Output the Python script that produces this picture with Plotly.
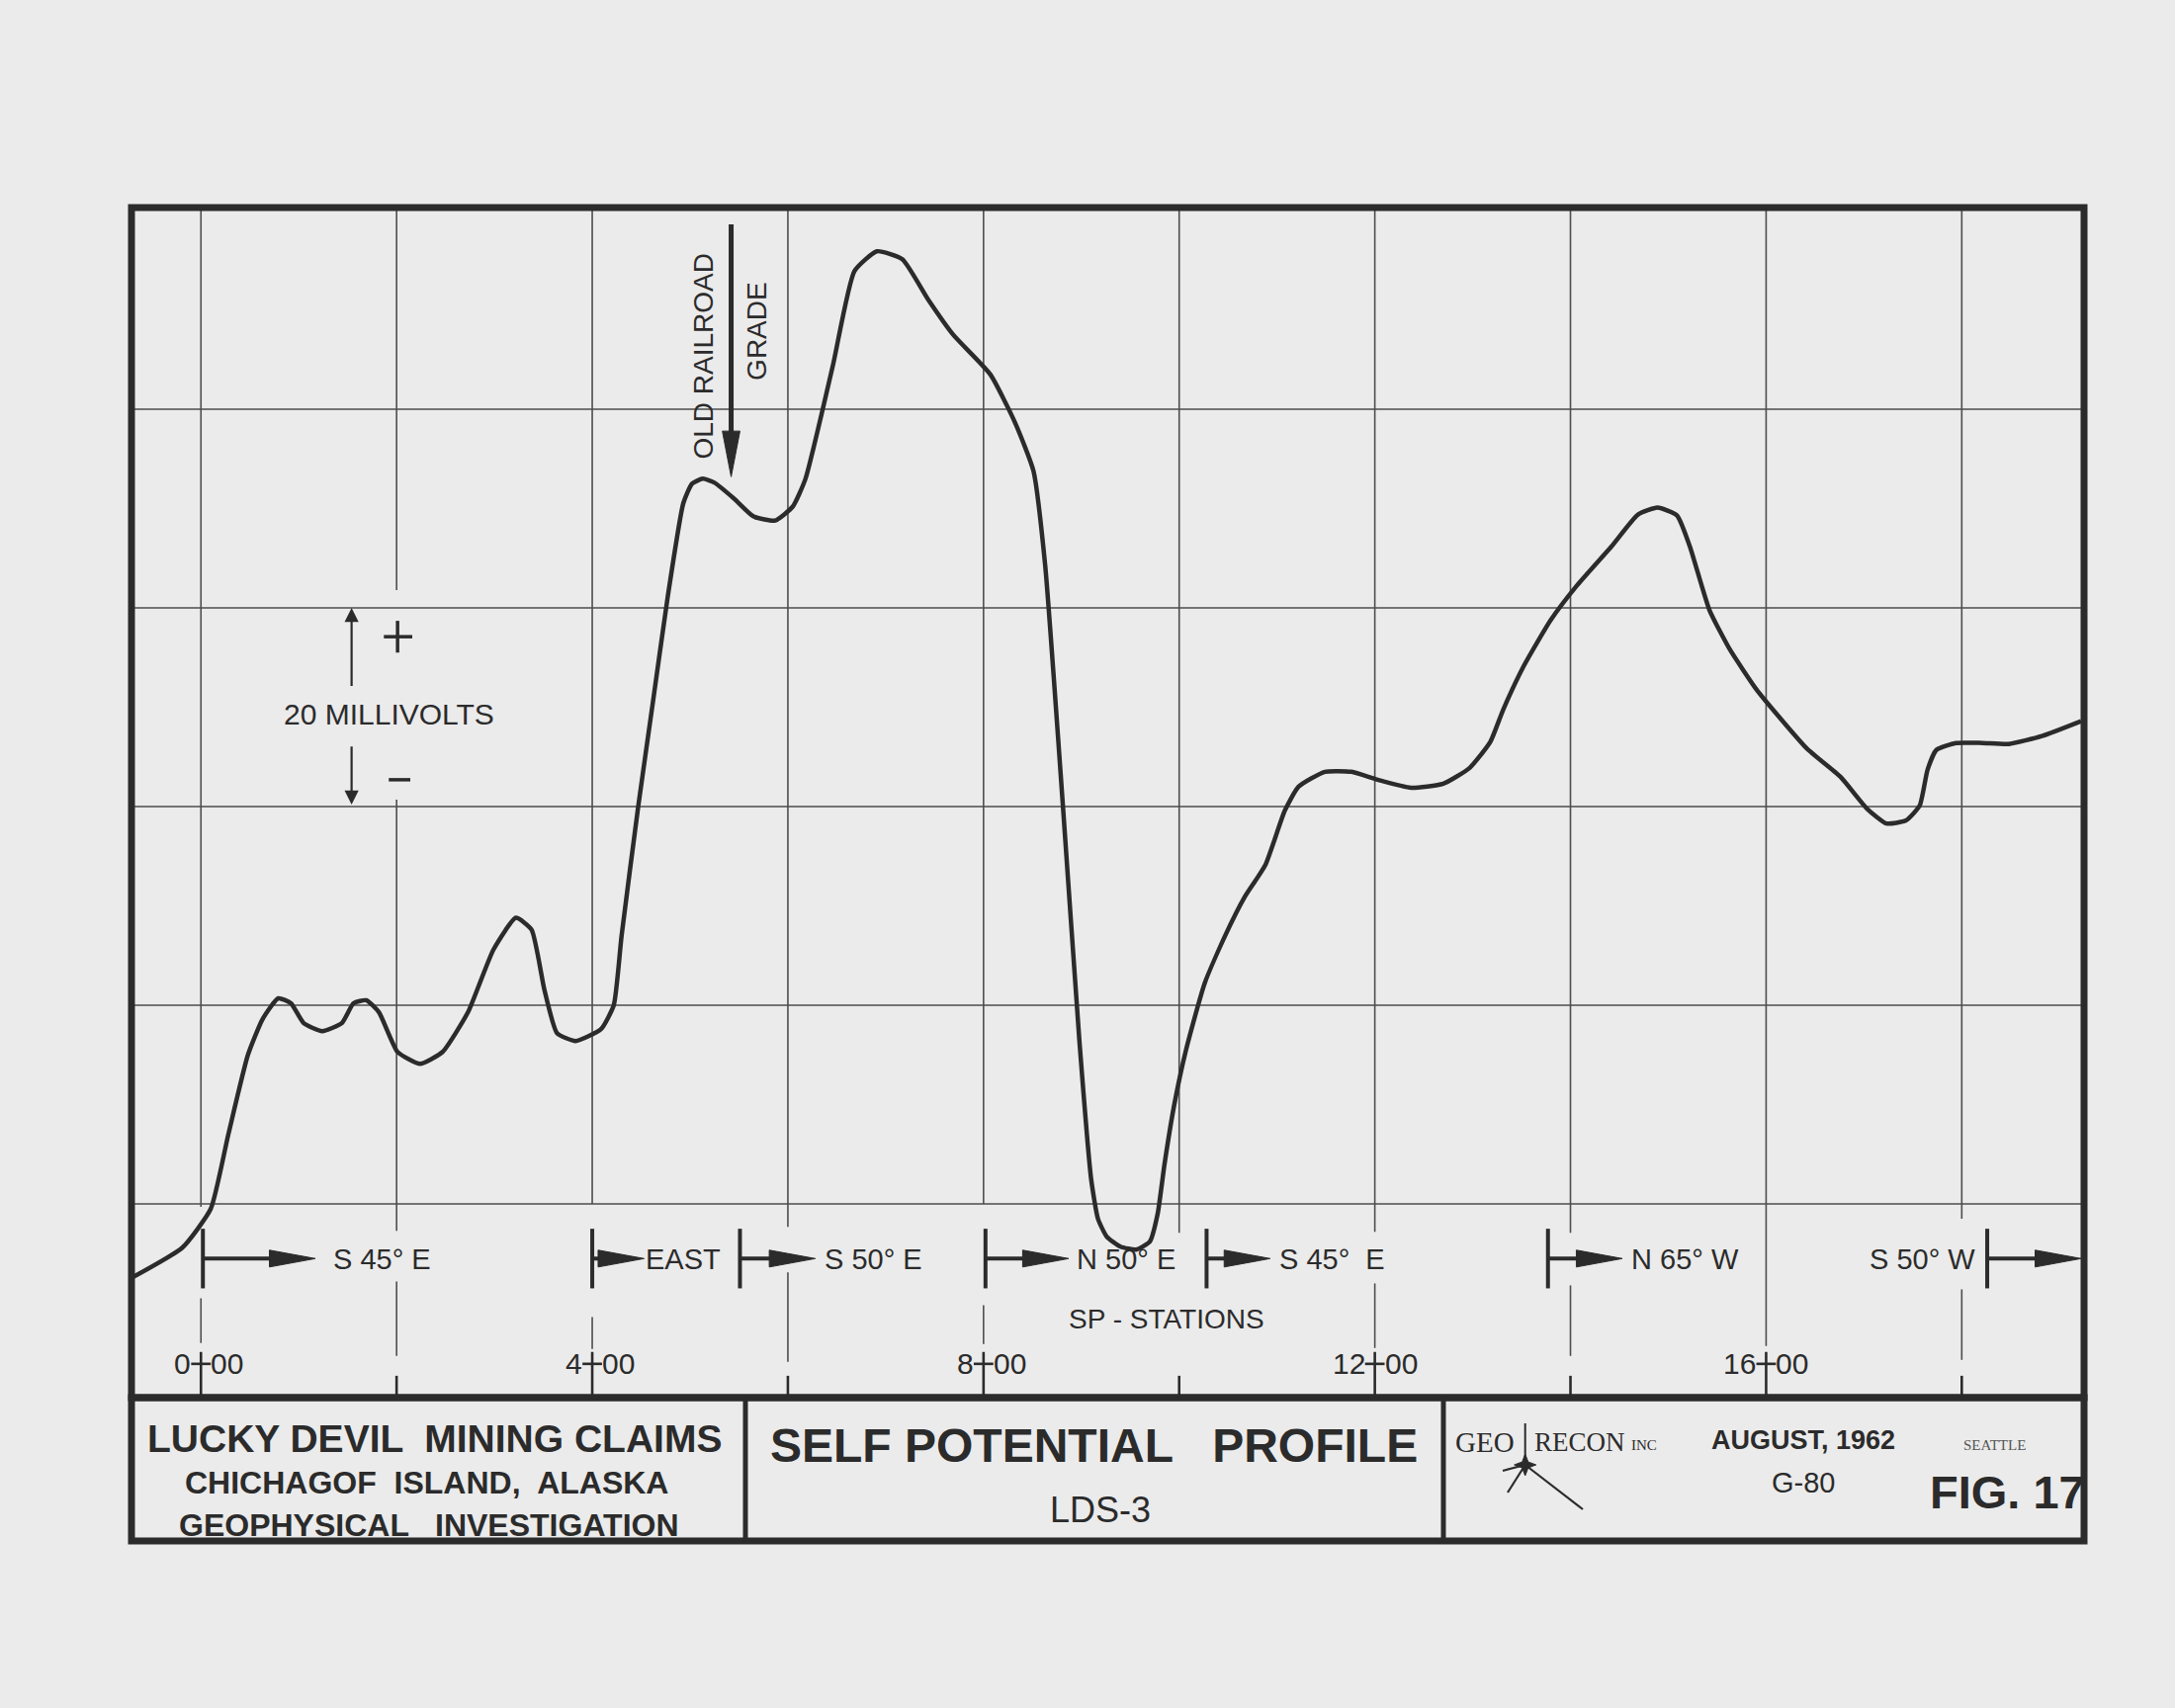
import plotly.graph_objects as go

# ---------------- data ----------------
STATIONS = [-0.72, -0.19, 0.10, 0.28, 0.48, 0.63, 0.79, 0.92, 1.05, 1.24, 1.44, 1.56, 1.69, 1.82,
            2.01, 2.24, 2.47, 2.73, 2.99, 3.22, 3.38, 3.51, 3.64, 3.83, 4.09, 4.22, 4.30, 4.47,
            4.62, 4.77, 4.93, 5.02, 5.13, 5.25, 5.45, 5.65, 5.87, 6.05, 6.18, 6.46, 6.68, 6.91,
            7.17, 7.43, 7.69, 8.07, 8.32, 8.51, 8.63, 8.81, 8.98, 9.10, 9.17, 9.26, 9.40, 9.56,
            9.70, 9.78, 9.85, 9.95, 10.07, 10.26, 10.47, 10.67, 10.88, 11.08, 11.22, 11.49, 11.76,
            12.03, 12.37, 12.70, 12.97, 13.18, 13.31, 13.52, 13.80, 14.07, 14.42, 14.69, 14.89,
            15.09, 15.22, 15.42, 15.63, 15.90, 16.10, 16.42, 16.76, 17.03, 17.23, 17.43, 17.57,
            17.65, 17.74, 17.94, 18.21, 18.48, 18.82, 19.22]
SP_MV = [-7.5, -4.4, -0.5, 7.0, 15.0, 18.6, 20.7, 20.2, 18.2, 17.4, 18.2, 20.2, 20.5, 19.3,
         15.3, 14.1, 15.3, 19.3, 25.6, 28.8, 27.6, 21.6, 17.2, 16.4, 17.6, 20.0, 27.0, 40.0,
         50.5, 61.0, 70.5, 72.5, 73.0, 72.6, 71.0, 69.2, 68.8, 70.2, 73.0, 84.4, 93.9, 95.9,
         95.1, 91.1, 87.5, 83.5, 78.7, 73.8, 64.3, 40.3, 16.4, 2.5, -1.5, -3.3, -4.3, -4.6,
         -3.8, -1.0, 4.0, 10.0, 15.5, 22.2, 27.0, 30.9, 34.1, 39.6, 42.0, 43.5, 43.5,
         42.7, 41.9, 42.3, 43.9, 46.5, 49.7, 54.1, 58.8, 62.3, 66.2, 69.4, 70.1,
         69.3, 66.2, 59.8, 55.8, 51.8, 49.4, 45.8, 43.0, 39.8, 38.3, 38.6, 40.1,
         43.7, 45.7, 46.4, 46.4, 46.3, 47.1, 48.6]

GRID_STATIONS = [0, 2, 4, 6, 8, 10, 12, 14, 16, 18]
GRID_MV = [0, 20, 40, 60, 80]
LABEL_STATIONS = [0, 4, 8, 12, 16]
STATION_LABELS = ["0+00", "4+00", "8+00", "12+00", "16+00"]

DIR_BAR_ST = [0.02, 4.0, 5.51, 8.02, 10.28, 13.77, 18.26]
DIR_TIP_ST = [1.17, 4.53, 6.28, 8.87, 10.93, 14.53, 19.22]
DIR_LABELS = ["S 45° E", "EAST", "S 50° E", "N 50° E", "S 45°  E", "N 65° W", "S 50° W"]
DIR_LABEL_ST = [1.33, 4.53, 6.35, 8.93, 11.0, 14.6, 18.16]
DIR_LABEL_SIDE = ["after", "after", "after", "after", "after", "after", "before"]

RAILROAD_ST = 5.42
RAILROAD_TOP_MV = 98.6
RAILROAD_TIP_MV = 73.2
SCALE_ST = 1.54
SCALE_TOP_MV = 60.0
SCALE_BOTTOM_MV = 40.2

# ---------------- layout geometry ----------------
W, H = 2200, 1728
L, R, T, B = 133, 2108, 210, 1414
X_RANGE = [-0.71, 19.25]
Y_RANGE = [-19.5, 100.3]
TB_BOTTOM = 1559

PAPER = "#ebebeb"
INK = "#2b2b2b"
GRIDC = "#4d4d4d"
SANS = "Liberation Sans, Arial, Helvetica, sans-serif"
SERIF = "Liberation Serif, Times New Roman, serif"


def px(x):
    return (x - L) / (R - L)


def py(y):
    return (B - y) / (B - T)


shapes = []
annotations = []


def vline(x, y0, y1, width=1.6, color=GRIDC, layer="below"):
    shapes.append(dict(type="line", xref="x", yref="y", x0=x, x1=x, y0=y0, y1=y1,
                       line=dict(color=color, width=width), layer=layer))


def hline_data(x0, x1, y, width=3.5, color=INK):
    shapes.append(dict(type="line", xref="x", yref="y", x0=x0, x1=x1, y0=y, y1=y,
                       line=dict(color=color, width=width)))


def text(t, x, y, size, xref="x", yref="y", xanchor="center", yanchor="middle",
         angle=0, family=SANS, xshift=0, yshift=0, color=INK):
    annotations.append(dict(text=t, x=x, y=y, xref=xref, yref=yref, showarrow=False,
                            xanchor=xanchor, yanchor=yanchor, textangle=angle,
                            xshift=xshift, yshift=yshift,
                            font=dict(family=family, size=size, color=color)))


# horizontal grid lines
for mv in GRID_MV:
    shapes.append(dict(type="line", xref="paper", yref="y", x0=0, x1=1, y0=mv, y1=mv,
                       line=dict(color=GRIDC, width=1.6), layer="below"))

# vertical grid lines with the gaps left for the lettering
upper_end = {0: -0.3, 2: -2.7, 4: 0.0, 6: -2.3, 8: 0.0, 10: -2.9, 12: -2.8, 14: -2.9,
             16: -14.3, 18: -1.5}
mid_seg = {0: (-9.5, -14.0), 2: (-7.8, -15.3), 4: (-11.4, -14.6), 6: (-6.9, -15.9),
           8: (-10.2, -14.1), 12: (-8.0, -14.5), 14: (-8.2, -15.3), 18: (-8.6, -15.7)}
for s in GRID_STATIONS:
    if s == 2:
        vline(s, Y_RANGE[1], 61.8)
        vline(s, 40.7, upper_end[s])
    else:
        vline(s, Y_RANGE[1], upper_end[s])
    if s in mid_seg:
        vline(s, *mid_seg[s])
    if s in LABEL_STATIONS:
        vline(s, Y_RANGE[0], -14.9, width=2.6, color=INK, layer="above")
    else:
        vline(s, Y_RANGE[0], -17.3, width=2.6, color=INK, layer="above")

# station labels with the tick forming the "+"
for s, lab in zip(LABEL_STATIONS, STATION_LABELS):
    left, right = lab.split("+")
    text(left, s, -16.1, 30, xanchor="right", xshift=-8)
    text(right, s, -16.1, 30, xanchor="left", xshift=8)
    hline_data(s - 0.1, s + 0.1, -16.1, width=2.6)

text("SP - STATIONS", 9.87, -11.6, 28)

# traverse direction markers
ROW = -5.5
for bar, tip, lab, lst, side in zip(DIR_BAR_ST, DIR_TIP_ST, DIR_LABELS, DIR_LABEL_ST, DIR_LABEL_SIDE):
    vline(bar, -2.5, -8.5, width=4, color=INK, layer="above")
    hline_data(bar, tip - 0.3, ROW, width=4)
    base = tip - 0.47
    shapes.append(dict(type="path", xref="x", yref="y",
                       path=f"M {base},{ROW + 0.85} L {tip},{ROW} L {base},{ROW - 0.85} Z",
                       fillcolor=INK, line=dict(color=INK, width=1)))
    if side == "after":
        text(lab, lst, ROW - 0.1, 29, xanchor="left")
    else:
        text(lab, lst, ROW - 0.1, 29, xanchor="right")

# OLD RAILROAD GRADE arrow
vline(RAILROAD_ST, RAILROAD_TOP_MV, RAILROAD_TIP_MV + 4.2, width=5, color=INK, layer="above")
shapes.append(dict(type="path", xref="x", yref="y",
                   path=(f"M {RAILROAD_ST - 0.09},{RAILROAD_TIP_MV + 4.6} L {RAILROAD_ST},{RAILROAD_TIP_MV} "
                         f"L {RAILROAD_ST + 0.09},{RAILROAD_TIP_MV + 4.6} Z"),
                   fillcolor=INK, line=dict(color=INK, width=1)))
text("OLD RAILROAD", 5.14, 85.4, 28, angle=-90)
text("GRADE", 5.68, 87.9, 28, angle=-90)

# 20 millivolt scale
for tip_mv, tail_mv in ((SCALE_TOP_MV, SCALE_TOP_MV - 8), (SCALE_BOTTOM_MV, SCALE_BOTTOM_MV + 6)):
    annotations.append(dict(text="", x=SCALE_ST, y=tip_mv, ax=SCALE_ST, ay=tail_mv,
                            xref="x", yref="y", axref="x", ayref="y", showarrow=True,
                            arrowhead=2, arrowsize=1.3, arrowwidth=2.2, arrowcolor=INK))
text("20 MILLIVOLTS", 1.92, 49.3, 30)
hline_data(1.87, 2.16, 57.1, width=3.5)
vline(2.01, 55.5, 58.7, width=3.5, color=INK, layer="above")
hline_data(1.92, 2.14, 42.7, width=3.5)

# ---------------- frame and title block ----------------
yb = py(TB_BOTTOM)
shapes.append(dict(type="rect", xref="paper", yref="paper", x0=0, x1=1, y0=0, y1=1,
                   line=dict(color=INK, width=7)))
shapes.append(dict(type="rect", xref="paper", yref="paper", x0=0, x1=1, y0=yb, y1=0,
                   line=dict(color=INK, width=7)))
for xd in (754, 1460):
    shapes.append(dict(type="line", xref="paper", yref="paper", x0=px(xd), x1=px(xd), y0=yb, y1=0,
                       line=dict(color=INK, width=5)))

text("<b>LUCKY DEVIL  MINING CLAIMS</b>", px(439), py(1455), 39, xref="paper", yref="paper")
text("<b>CHICHAGOF  ISLAND,  ALASKA</b>", px(431), py(1500), 32, xref="paper", yref="paper")
text("<b>GEOPHYSICAL   INVESTIGATION</b>", px(434), py(1543), 32, xref="paper", yref="paper")
text("<b>SELF POTENTIAL   PROFILE</b>", px(1106), py(1462), 48, xref="paper", yref="paper")
text("LDS-3", px(1113), py(1527), 36, xref="paper", yref="paper")

text("GEO", px(1534), py(1459), 29, xref="paper", yref="paper", xanchor="right", family=SERIF)
text("RECON", px(1550), py(1459), 27, xref="paper", yref="paper", xanchor="left", family=SERIF)
text("INC", px(1648), py(1462), 15, xref="paper", yref="paper", xanchor="left", family=SERIF)
text("<b>AUGUST, 1962</b>", px(1824), py(1457), 27, xref="paper", yref="paper")
text("SEATTLE", px(2017), py(1462), 15, xref="paper", yref="paper", family=SERIF, color="#555555")
text("G-80", px(1824), py(1500), 29, xref="paper", yref="paper")
text("<b>FIG. 17</b>", px(2030), py(1509), 47, xref="paper", yref="paper")

# Geo Recon logo
cx, cy = 1542.7, 1482
for (x0, y0, x1, y1, w) in ((cx, 1440, cx, cy, 2), (cx, cy, 1525, 1510, 2.2),
                            (cx, cy, 1601, 1527, 2.2), (cx, cy, 1520, 1488, 2.2)):
    shapes.append(dict(type="line", xref="paper", yref="paper", x0=px(x0), x1=px(x1),
                       y0=py(y0), y1=py(y1), line=dict(color=INK, width=w)))
star = []
for (dx, dy) in ((0, -11), (3, -3), (11, 0), (3, 3), (0, 11), (-3, 3), (-11, 0), (-3, -3)):
    star.append(f"{px(cx + dx)},{py(cy + dy)}")
shapes.append(dict(type="path", xref="paper", yref="paper",
                   path="M " + " L ".join(star) + " Z", fillcolor=INK, line=dict(color=INK, width=1)))

# ---------------- figure ----------------
fig = go.Figure()
fig.add_trace(go.Scatter(x=STATIONS, y=SP_MV, mode="lines",
                         line=dict(shape="spline", smoothing=0.5, width=4.5, color=INK),
                         hoverinfo="skip", showlegend=False))

fig.update_layout(
    width=W, height=H,
    margin=dict(l=L, r=W - R, t=T, b=H - B, pad=0),
    paper_bgcolor=PAPER, plot_bgcolor=PAPER,
    showlegend=False,
    xaxis=dict(range=X_RANGE, showgrid=False, zeroline=False, showticklabels=False,
               ticks="", showline=False, fixedrange=True),
    yaxis=dict(range=Y_RANGE, showgrid=False, zeroline=False, showticklabels=False,
               ticks="", showline=False, fixedrange=True),
    shapes=shapes,
    annotations=annotations,
)

fig.write_html(
    "out.html",
    config={"displayModeBar": False},
    post_script=(f"document.body.style.margin='0';document.body.style.background='{PAPER}';"
                 "document.body.style.overflow='hidden';"),
)
